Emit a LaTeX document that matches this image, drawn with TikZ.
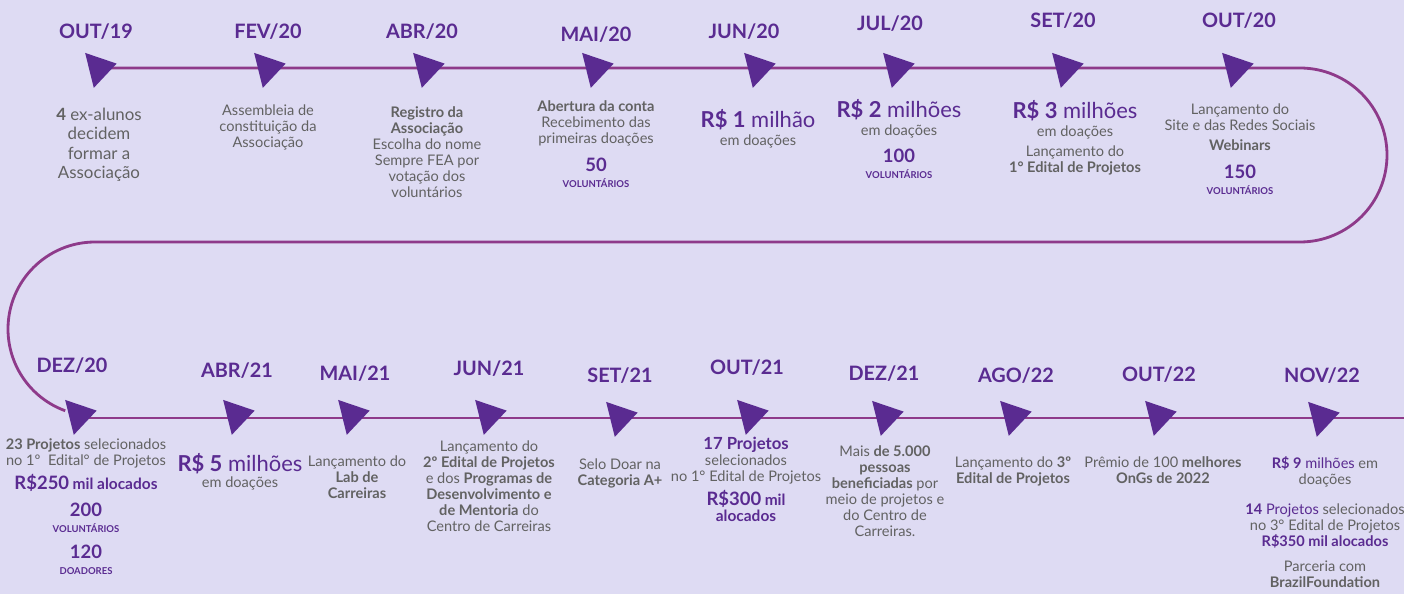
\documentclass[tikz,border=0pt]{standalone}
\usepackage{fontspec}
\setmainfont{Lato}
\usetikzlibrary{shapes.geometric, positioning, backgrounds}
\definecolor{fundo}{HTML}{DEDBF3}
\definecolor{roxo}{HTML}{5A2B91}
\definecolor{linha}{HTML}{8E3A8A}
\definecolor{cinza}{HTML}{626262}
\newcommand{\tlvalor}[2]{{\fontsize{12.5}{14}\selectfont\color{roxo}\textbf{#1} #2}}
\newcommand{\tlnum}[1]{{\fontsize{10.5}{12}\selectfont\bfseries\color{roxo}#1}}
\newcommand{\tlcap}[1]{{\fontsize{5.4}{6}\selectfont\bfseries\color{roxo}#1}}
\tikzstyle{marco}  = [isosceles triangle, isosceles triangle stretches,
                      minimum height=5.6mm, minimum width=7.2mm,
                      inner sep=0pt, fill=roxo, rotate=14]
\tikzstyle{mes}    = [font=\fontsize{11.3}{13}\selectfont\bfseries, text=roxo,
                      inner sep=0pt, text depth=0pt]
\tikzstyle{texto}  = [font=\fontsize{8.3}{9.1}\selectfont, text=cinza,
                      align=center, inner sep=0pt]
\tikzstyle{trilha} = [draw=linha, line width=1.6pt]

\begin{document}
\begin{tikzpicture}[x=0.2mm, y=0.2mm]
\useasboundingbox (0,0) rectangle (1404,-594);
% marcos da primeira linha
\node (m1)  [marco] at (99,-68)   {};
\node (m2)  [marco] at (268,-68)  {};
\node (m3)  [marco] at (427,-68)  {};
\node (m4)  [marco] at (596,-68)  {};
\node (m5)  [marco] at (758,-68)  {};
\node (m6)  [marco] at (897,-68)  {};
\node (m7)  [marco] at (1066,-68) {};
\node (m8)  [marco] at (1236,-68) {};
% marcos da segunda linha
\node (m9)  [marco] at (79,-415)   {};
\node (m10) [marco] at (237,-415)  {};
\node (m11) [marco] at (352,-415)  {};
\node (m12) [marco] at (489,-415)  {};
\node (m13) [marco] at (620,-417)  {};
\node (m14) [marco] at (751,-415)  {};
\node (m15) [marco] at (886,-416)  {};
\node (m16) [marco] at (1014,-416) {};
\node (m17) [marco] at (1159,-416) {};
\node (m18) [marco] at (1322,-417) {};
\coordinate (curvaD) at (1300,-68);
\coordinate (curvaE) at (95,-242);
\coordinate (inicio) at (79,-418);
\coordinate (fim)    at (1404,-418);

% datas
\node (d1)  [mes, above=5.8mm of m1.center, xshift=-0.6mm] {OUT/19};
\node (d2)  [mes, above=5.8mm of m2.center]                {FEV/20};
\node (d3)  [mes, above=5.8mm of m3.center, xshift=-1mm]   {ABR/20};
\node (d4)  [mes, above=5.2mm of m4.center]                {MAI/20};
\node (d5)  [mes, above=5.8mm of m5.center, xshift=-2.8mm] {JUN/20};
\node (d6)  [mes, above=7.4mm of m6.center, xshift=-1.4mm] {JUL/20};
\node (d7)  [mes, above=8mm of m7.center,   xshift=-0.6mm] {SET/20};
\node (d8)  [mes, above=8mm of m8.center,   xshift=0.6mm]  {OUT/20};
\node (d9)  [mes, above=8.4mm of m9.center, xshift=-1.4mm] {DEZ/20};
\node (d10) [mes, above=7.4mm of m10.center]               {ABR/21};
\node (d11) [mes, above=6.8mm of m11.center, xshift=0.6mm] {MAI/21};
\node (d12) [mes, above=7.8mm of m12.center]               {JUN/21};
\node (d13) [mes, above=6.8mm of m13.center]               {SET/21};
\node (d14) [mes, above=8mm of m14.center, xshift=-0.8mm]  {OUT/21};
\node (d15) [mes, above=7mm of m15.center, xshift=-0.4mm]  {DEZ/21};
\node (d16) [mes, above=6.6mm of m16.center, xshift=0.4mm] {AGO/22};
\node (d17) [mes, above=6.8mm of m17.center]               {OUT/22};
\node (d18) [mes, above=6.8mm of m18.center]               {NOV/22};

% textos da primeira linha
\node (t1) [texto, below=8mm of m1.center, font=\fontsize{9.6}{10.9}\selectfont]
  {\textbf{4} ex-alunos\\decidem\\formar a\\Associação};
\node (t2) [texto, below=7.3mm of m2.center]
  {Assembleia de\\constituição da\\Associação};
\node (t3) [texto, below=7.7mm of m3.center]
  {\textbf{Registro da}\\\textbf{Associação}\\Escolha do nome\\Sempre FEA por\\votação dos\\voluntários};
\node (t4) [texto, below=6.5mm of m4.center]
  {\textbf{Abertura da conta}\\Recebimento das\\primeiras doações\\[5.5pt]\tlnum{50}\\\tlcap{VOLUNTÁRIOS}};
\node (t5) [texto, below=8.2mm of m5.center]
  {\tlvalor{R\$ 1}{milhão}\\[1pt]em doações};
\node (t6) [texto, below=6.2mm of m6.center, xshift=0.4mm]
  {\tlvalor{R\$ 2}{milhões}\\[1pt]em doações\\[5.5pt]\tlnum{100}\\\tlcap{VOLUNTÁRIOS}};
\node (t7) [texto, below=6.4mm of m7.center, xshift=1.8mm]
  {\tlvalor{R\$ 3}{milhões}\\[1pt]em doações\\[2.4pt]Lançamento do\\\textbf{1° Edital de Projetos}};
\node (t8) [texto, below=7.1mm of m8.center, xshift=0.8mm]
  {Lançamento do\\Site e das Redes Sociais\\[2.4pt]\textbf{Webinars}\\[6.5pt]\tlnum{150}\\\tlcap{VOLUNTÁRIOS}};

% textos da segunda linha
\node (t9) [texto, below=4.6mm of m9.center, xshift=1.4mm]
  {\textbf{23 Projetos} selecionados\\no 1º\ \ Edital° de Projetos\\[2.5pt]
   {\color{roxo}\bfseries{\fontsize{10.5}{12}\selectfont R\$250} {\fontsize{8.8}{10}\selectfont mil alocados}}\\[6.5pt]
   \tlnum{200}\\\tlcap{VOLUNTÁRIOS}\\[5.5pt]\tlnum{120}\\\tlcap{DOADORES}};
\node (t10) [texto, below=7.6mm of m10.center, xshift=0.6mm]
  {\tlvalor{R\$ 5}{milhões}\\em doações};
\node (t11) [texto, below=8mm of m11.center, xshift=1mm]
  {Lançamento do\\\textbf{Lab de}\\\textbf{Carreiras}};
\node (t12) [texto, below=5mm of m12.center]
  {Lançamento do\\\textbf{2º Edital de Projetos}\\e dos \textbf{Programas de}\\\textbf{Desenvolvimento e}\\\textbf{de Mentoria} do\\Centro de Carreiras};
\node (t13) [texto, below=8.2mm of m13.center]
  {Selo Doar na\\\textbf{Categoria A+}};
\node (t14) [texto, below=4.4mm of m14.center, xshift=-1mm]
  {{\fontsize{9.5}{11}\selectfont\bfseries\color{roxo}17 Projetos}\\selecionados\\no 1° Edital de Projetos\\[2.5pt]
   {\color{roxo}\bfseries{\fontsize{10.5}{12}\selectfont R\$300} {\fontsize{8.8}{10}\selectfont mil}}\\
   {\color{roxo}\bfseries\fontsize{8.8}{10}\selectfont alocados}};
\node (t15) [texto, below=5.8mm of m15.center, xshift=-0.2mm]
  {Mais \textbf{de 5.000}\\\textbf{pessoas}\\\textbf{beneficiadas} por\\meio de projetos e\\do Centro de\\Carreiras.};
\node (t16) [texto, below=8mm of m16.center, xshift=-0.2mm]
  {Lançamento do \textbf{3º}\\\textbf{Edital de Projetos}};
\node (t17) [texto, below=8mm of m17.center, xshift=0.8mm]
  {Prêmio de 100 \textbf{melhores}\\\textbf{OnGs de 2022}};
\node (t18) [texto, below=7.8mm of m18.center, xshift=0.6mm]
  {{\color{roxo}\textbf{R\$ 9} milhões} em\\doações\\[8pt]{\color{roxo}\textbf{14} Projetos} selecionados\\no 3° Edital de Projetos\\
   {\color{roxo}\bfseries R\$350 mil alocados}\\[5pt]Parceria com\\\textbf{BrazilFoundation}};

\begin{scope}[on background layer]
  \fill [fundo] (0,0) rectangle (1404,-594);
  \draw [trilha] (m1.center) -- (m8.center) -- (curvaD)
        arc[start angle=90, end angle=-90, radius=87] -- (curvaE)
        arc[start angle=90, end angle=250, radius=87];
  \draw [trilha] (inicio) -- (fim);
\end{scope}
\end{tikzpicture}
\end{document}
